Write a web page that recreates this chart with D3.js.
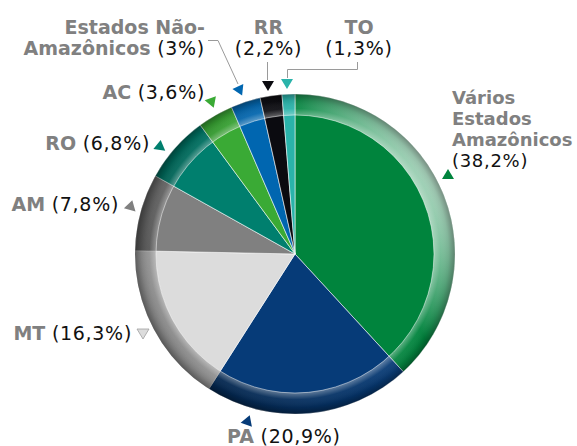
<!DOCTYPE html>
<html>
<head>
<meta charset="utf-8">
<script src="https://cdn.jsdelivr.net/npm/d3@7"></script>
<style>
  body { margin: 0; background: #fff; }
  svg { display: block; font-family: "DejaVu Sans", Verdana, sans-serif; }
</style>
</head>
<body>
<svg width="577" height="446"></svg>
<script>
// data
const categories = ["Vários Estados Amazônicos", "PA", "MT", "AM", "RO", "AC", "Estados Não-Amazônicos", "RR", "TO"];
const shares = [38.2, 20.9, 16.3, 7.8, 6.8, 3.6, 3.0, 2.2, 1.3];
const shareLabels = ["(38,2%)", "(20,9%)", "(16,3%)", "(7,8%)", "(6,8%)", "(3,6%)", "(3%)", "(2,2%)", "(1,3%)"];
const sliceColors = ["#00843d", "#063b78", "#dcdcdc", "#808080", "#007f6e", "#3aaa35", "#0066b0", "#0b0b10", "#2ab3aa"];

const svg = d3.select('svg');
const cx = 295, cy = 254;
const R = 160, rInner = 139;

// gradients for the rim lighting
let defs = svg.append('defs');
let light = defs.append('linearGradient').attr('id', 'light')
  .attr('gradientUnits', 'userSpaceOnUse')
  .attr('x1', R * 0.866).attr('y1', -R * 0.5)
  .attr('x2', -R * 0.866).attr('y2', R * 0.5);
[[0, '#fff', 0.72], [0.28, '#fff', 0], [0.5, '#000', 0.08], [1, '#000', 0.4]].forEach(s => {
  light.append('stop').attr('offset', s[0]).attr('stop-color', s[1]).attr('stop-opacity', s[2]);
});
let rim = defs.append('radialGradient').attr('id', 'rim')
  .attr('gradientUnits', 'userSpaceOnUse')
  .attr('cx', 0).attr('cy', 0).attr('r', R);
[[rInner / R, '#fff', 0.35], [0.91, '#fff', 0.05], [0.96, '#000', 0.1], [1, '#000', 0.35]].forEach(s => {
  rim.append('stop').attr('offset', s[0]).attr('stop-color', s[1]).attr('stop-opacity', s[2]);
});

let pieG = svg.append('g').attr('transform', `translate(${cx},${cy})`);

let pie = d3.pie().sort(null).value(d => d)(shares);
let arc = d3.arc().innerRadius(0).outerRadius(R);

pieG.selectAll('path.slice').data(pie).join('path')
  .attr('class', 'slice')
  .attr('d', arc)
  .attr('fill', (d, i) => sliceColors[i])
  .attr('stroke', '#fff').attr('stroke-width', 0.7).attr('stroke-opacity', 0.8);

let ring = d3.arc().innerRadius(rInner).outerRadius(R).startAngle(0).endAngle(2 * Math.PI)();
pieG.append('path').attr('d', ring).attr('fill', 'url(#light)');
pieG.append('path').attr('d', ring).attr('fill', 'url(#rim)');
pieG.append('circle').attr('r', rInner).attr('fill', 'none')
  .attr('stroke', '#fff').attr('stroke-opacity', 0.6).attr('stroke-width', 0.8);

// label layout (hand placed like the original)
const labelLayout = [
  { anchor: 'start', x: 452, size: 18, lines: [['Vários'], ['Estados'], ['Amazônicos'], [null, 0]], y: [104, 125, 146, 167], marker: [448, 174, 0] },
  { anchor: 'start', x: 227, lines: [['PA ', 0]], y: [443], marker: [248, 420, 20] },
  { anchor: 'end', x: 132, lines: [['MT ', 0]], y: [340], marker: [143, 334, 180] },
  { anchor: 'end', x: 119, lines: [['AM ', 0]], y: [211], marker: [131, 205, 15] },
  { anchor: 'end', x: 150, lines: [['RO ', 0]], y: [150], marker: [160, 145, 8] },
  { anchor: 'end', x: 205, lines: [['AC ', 0]], y: [99], marker: [212, 103, 160] },
  { anchor: 'end', x: 205, lines: [['Estados Não-'], ['Amazônicos ', 0]], y: [34, 55], marker: [240, 91, 155],
    leader: [[208, 40.5], [218, 40.5], [238, 84]] },
  { anchor: 'middle', x: 268.5, lines: [['RR'], [null, 0]], y: [34, 55], marker: [268, 86, 180],
    leader: [[267.5, 62], [267.5, 80]] },
  { anchor: 'middle', x: 359, lines: [['TO'], [null, 0]], y: [34, 55], marker: [287, 84, 180],
    leader: [[357.5, 62], [357.5, 69.5], [287.5, 69.5], [287.5, 78]] }
];

let labelG = svg.append('g');
labelLayout.forEach((lay, i) => {
  if (lay.leader) {
    labelG.append('path').attr('d', d3.line()(lay.leader))
      .attr('fill', 'none').attr('stroke', '#9a9a9a').attr('stroke-width', 1);
  }
  lay.lines.forEach((line, j) => {
    let t = labelG.append('text').attr('x', lay.x).attr('y', lay.y[j])
      .attr('text-anchor', lay.anchor).attr('font-size', lay.size || 19);
    if (line[0] !== null) {
      t.append('tspan').attr('font-weight', 'bold').attr('fill', '#808080').text(line[0]);
    }
    if (line.length > 1) {
      t.append('tspan').attr('fill', '#111').attr('letter-spacing', 0.7).text(shareLabels[i]);
    }
  });
  let m = lay.marker;
  labelG.append('path')
    .attr('d', 'M0,-5L6,5L-6,5Z')
    .attr('transform', `translate(${m[0]},${m[1]}) rotate(${m[2]})`)
    .attr('fill', sliceColors[i])
    .attr('stroke', i === 2 ? '#a0a0a0' : 'none').attr('stroke-width', 0.8);
});
</script>
</body>
</html>
